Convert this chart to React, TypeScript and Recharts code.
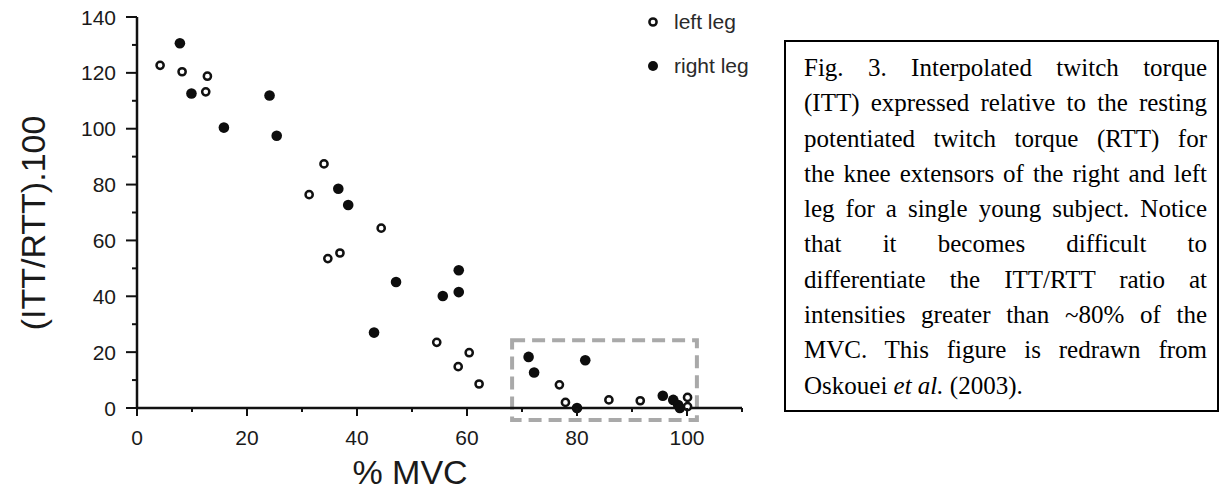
import React from 'react';
import {
  ScatterChart,
  Scatter,
  XAxis,
  YAxis,
  ReferenceArea,
  Label,
} from 'recharts';

// % MVC vs (ITT/RTT).100
const leftLeg = [
  { x: 4.2, y: 122.7 },
  { x: 8.2, y: 120.4 },
  { x: 12.8, y: 118.8 },
  { x: 12.5, y: 113.2 },
  { x: 34.0, y: 87.4 },
  { x: 31.3, y: 76.4 },
  { x: 44.4, y: 64.4 },
  { x: 34.7, y: 53.5 },
  { x: 36.9, y: 55.5 },
  { x: 54.5, y: 23.5 },
  { x: 60.4, y: 19.8 },
  { x: 58.4, y: 14.8 },
  { x: 62.2, y: 8.6 },
  { x: 76.8, y: 8.3 },
  { x: 77.9, y: 2.0 },
  { x: 85.8, y: 2.9 },
  { x: 91.5, y: 2.6 },
  { x: 100.1, y: 3.8 },
  { x: 100.1, y: 0.5 },
];

const rightLeg = [
  { x: 7.8, y: 130.6 },
  { x: 9.9, y: 112.6 },
  { x: 24.1, y: 111.9 },
  { x: 15.8, y: 100.4 },
  { x: 25.4, y: 97.5 },
  { x: 36.6, y: 78.5 },
  { x: 38.4, y: 72.7 },
  { x: 47.1, y: 45.1 },
  { x: 58.5, y: 49.3 },
  { x: 55.6, y: 40.1 },
  { x: 58.5, y: 41.5 },
  { x: 43.1, y: 27.0 },
  { x: 71.2, y: 18.3 },
  { x: 72.2, y: 12.7 },
  { x: 81.5, y: 17.1 },
  { x: 80.0, y: 0 },
  { x: 95.6, y: 4.4 },
  { x: 97.5, y: 2.9 },
  { x: 98.4, y: 1.1 },
  { x: 98.7, y: 0 },
];

const xTicks = [0, 10, 20, 30, 40, 50, 60, 70, 80, 90, 100, 110];
const yTicks = [0, 10, 20, 30, 40, 50, 60, 70, 80, 90, 100, 110, 120, 130, 140];

// dashed highlight box (x from, x to, y from, y to)
const boxX = [68.2, 101.8];
const boxY = [-4.3, 24.3];

const captionLines = [
  'Fig. 3. Interpolated twitch torque',
  '(ITT) expressed relative to the resting',
  'potentiated twitch torque (RTT) for',
  'the knee extensors of the right and left',
  'leg for a single young subject. Notice',
  'that it becomes difficult to',
  'differentiate the ITT/RTT ratio at',
  'intensities greater than ~80% of the',
  'MVC. This figure is redrawn from',
];

const SANS = '"Liberation Sans", Arial, Helvetica, sans-serif';
const INK = '#1a1a1a';

const XTick = (props: any) => {
  const { x, y, payload } = props;
  const v = payload.value;
  const major = v % 20 === 0 && v <= 100;
  return (
    <g>
      <line x1={x} y1={y} x2={x} y2={y + (major ? 8 : 4)} stroke="#111" strokeWidth={2} />
      {major && (
        <text x={x} y={y + 37} textAnchor="middle" fontSize={21} fontFamily={SANS} fill={INK}>
          {v}
        </text>
      )}
    </g>
  );
};

const YTick = (props: any) => {
  const { x, y, payload } = props;
  const v = payload.value;
  const major = v % 20 === 0;
  return (
    <g>
      <line x1={x - (major ? 11 : 5)} y1={y} x2={x} y2={y} stroke="#111" strokeWidth={2} />
      {major && (
        <text x={x - 21} y={y + 7.5} textAnchor="end" fontSize={21} fontFamily={SANS} fill={INK}>
          {v}
        </text>
      )}
    </g>
  );
};

const OpenDot = (p: any) => (
  <circle cx={p.cx} cy={p.cy} r={3.6} fill="#fff" stroke="#111" strokeWidth={2.5} />
);
const FilledDot = (p: any) => <circle cx={p.cx} cy={p.cy} r={5.3} fill="#0d0d0d" />;

const LegendBox = () => (
  <div
    style={{
      position: 'absolute',
      left: 645,
      top: 10,
      fontFamily: SANS,
      fontSize: 21,
      color: '#2a2a2a',
    }}
  >
    <div style={{ display: 'flex', alignItems: 'center', height: 24 }}>
      <svg width={24} height={24}>
        <circle cx={8} cy={12} r={3.6} fill="#fff" stroke="#111" strokeWidth={2.5} />
      </svg>
      <span style={{ marginLeft: 5 }}>left leg</span>
    </div>
    <div style={{ display: 'flex', alignItems: 'center', height: 24, marginTop: 20 }}>
      <svg width={24} height={24}>
        <circle cx={8} cy={12} r={5} fill="#0d0d0d" />
      </svg>
      <span style={{ marginLeft: 5 }}>right leg</span>
    </div>
  </div>
);

export default function App() {
  return (
    <div style={{ position: 'absolute', left: 0, top: 0, width: 1220, height: 492, background: '#fff' }}>
      <ScatterChart
        width={780}
        height={492}
        margin={{ top: 17, right: 38, bottom: 0, left: 0 }}
      >
        <XAxis
          type="number"
          dataKey="x"
          domain={[0, 110]}
          ticks={xTicks}
          interval={0}
          height={84}
          tickSize={0}
          tickMargin={0}
          tickLine={false}
          tick={<XTick />}
          axisLine={{ stroke: '#111', strokeWidth: 2.5 }}
        >
          <Label
            content={() => (
              <text x={410} y={484} textAnchor="middle" fontSize={34} fontFamily={SANS} fill={INK}>
                % MVC
              </text>
            )}
          />
        </XAxis>
        <YAxis
          type="number"
          dataKey="y"
          domain={[0, 140]}
          ticks={yTicks}
          interval={0}
          width={137}
          tickSize={0}
          tickMargin={0}
          tickLine={false}
          tick={<YTick />}
          axisLine={{ stroke: '#111', strokeWidth: 2.5 }}
        >
          <Label
            content={() => (
              <text
                x={45}
                y={223}
                textAnchor="middle"
                fontSize={34}
                fontFamily={SANS}
                fill={INK}
                transform="rotate(-90 45 223)"
              >
                (ITT/RTT).100
              </text>
            )}
          />
        </YAxis>
        <ReferenceArea
          x1={boxX[0]}
          x2={boxX[1]}
          y1={boxY[0]}
          y2={boxY[1]}
          ifOverflow="visible"
          fill="none"
          fillOpacity={0}
          stroke="#a9a9a9"
          strokeWidth={4}
          strokeDasharray="13 7"
        />
        <Scatter name="left leg" data={leftLeg} shape={<OpenDot />} isAnimationActive={false} />
        <Scatter name="right leg" data={rightLeg} shape={<FilledDot />} isAnimationActive={false} />
      </ScatterChart>

      <LegendBox />

      <div
        style={{
          position: 'absolute',
          left: 784,
          top: 40,
          width: 435,
          height: 372,
          boxSizing: 'border-box',
          border: '2px solid #000',
          padding: '8px 10px 0 18px',
          fontFamily: '"Liberation Serif", "Times New Roman", serif',
          fontSize: 25,
          lineHeight: '35.3px',
          color: '#000',
        }}
      >
        {captionLines.map((line) => (
          <div key={line} style={{ textAlign: 'justify', textAlignLast: 'justify', whiteSpace: 'nowrap' }}>
            {line}
          </div>
        ))}
        <div>
          Oskouei <i>et al.</i> (2003).
        </div>
      </div>
    </div>
  );
}
